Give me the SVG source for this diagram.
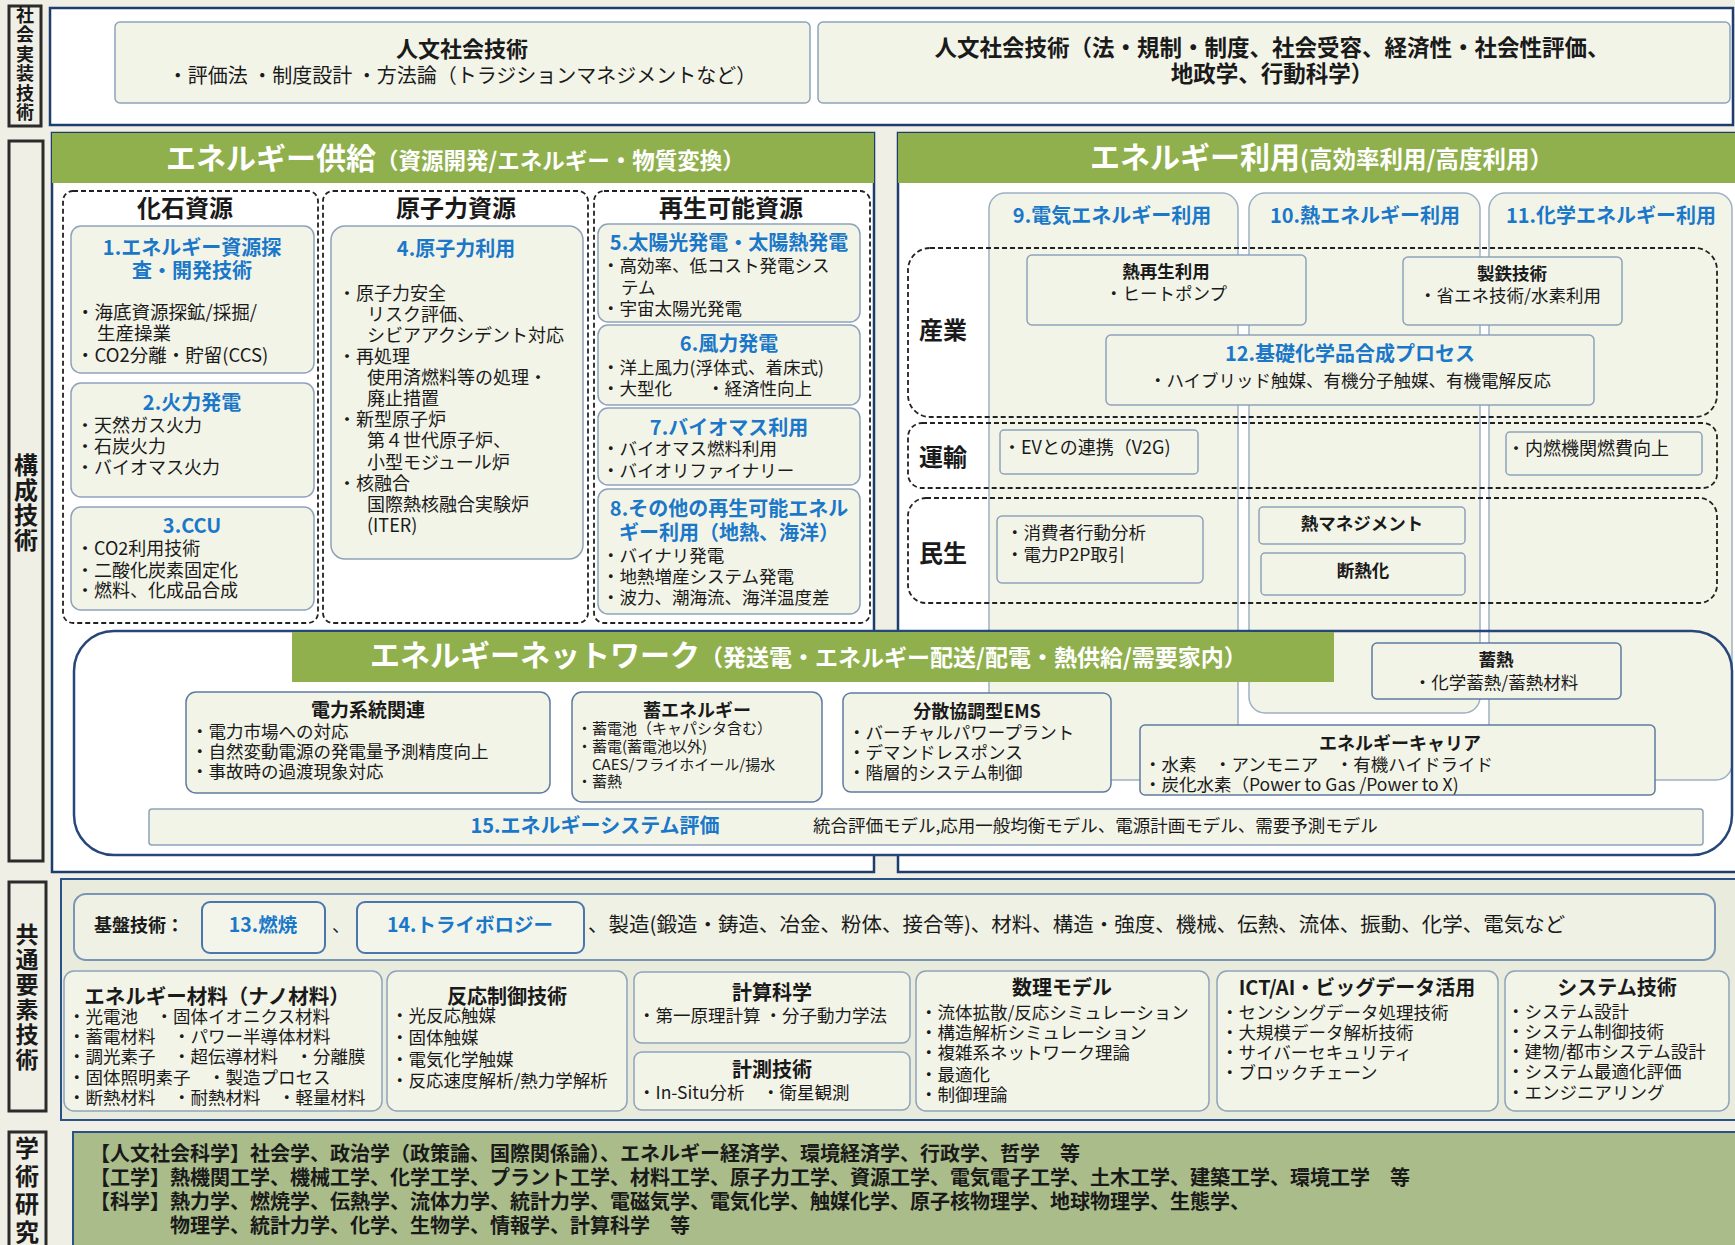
<svg xmlns="http://www.w3.org/2000/svg" width="1735" height="1245" viewBox="0 0 1735 1245" font-size="17.5">
<style>
.t{font-family:"Noto Sans CJK JP","Noto Sans",sans-serif;fill:#1a1a1a}
.b{font-weight:bold}
.c{text-anchor:middle}
.v{writing-mode:vertical-rl;font-family:"Noto Sans CJK JP","Noto Sans",sans-serif;fill:#1a1a1a;font-weight:bold}
.bl{fill:#1b78c9}
.w{fill:#ffffff}
.lab{fill:#efefe6;stroke:#2b2b2b;stroke-width:3}
.panel{fill:#ffffff;stroke:#1f3c6e;stroke-width:2.5}
.green{fill:#8fb04c}
.cb{fill:#f3f4e8;stroke:#8ea2ba;stroke-width:1.5}
.nb{fill:#f3f4e8;stroke:#5f7b9f;stroke-width:1.5}
.dash{fill:none;stroke:#222;stroke-width:1.8;stroke-dasharray:5 3}
.col{fill:#f3f4e8;stroke:#9db0c4;stroke-width:1.5}
</style>
<rect x="0" y="0" width="1735" height="1245" fill="#efefe6"/>

<!-- side labels -->
<g id="label-shakai">
<rect class="lab" x="9" y="6" width="32" height="120"/>
<text class="v" x="25" y="6" font-size="18" letter-spacing="1.5">社会実装技術</text>
</g>
<g id="label-kousei">
<rect class="lab" x="9" y="141" width="34" height="720"/>
<text class="v" x="26" y="453" font-size="24" letter-spacing="1">構成技術</text>
</g>
<g id="label-kyotsu">
<rect class="lab" x="9" y="882" width="37" height="229"/>
<text class="v" x="27" y="923" font-size="23" letter-spacing="2">共通要素技術</text>
</g>
<g id="label-gakujutsu">
<rect class="lab" x="9" y="1132" width="37" height="125"/>
<text class="v" x="27" y="1136" font-size="24" letter-spacing="4">学術研究</text>
</g>

<!-- top panel -->
<g id="top-panel">
<rect class="panel" x="50" y="8" width="1683" height="117"/>
</g>
<g id="jinbun-left">
<rect class="cb" x="115" y="22" width="695" height="81" rx="5"/>
<text class="t b c" x="462" y="57" font-size="22">人文社会技術</text>
<text class="t c" x="462" y="83" font-size="20">・評価法 ・制度設計 ・方法論（トラジションマネジメントなど）</text>
</g>
<g id="jinbun-right">
<rect class="cb" x="818" y="22" width="912" height="81" rx="5"/>
<text class="t b c" x="1272" y="56" font-size="22.5">人文社会技術（法・規制・制度、社会受容、経済性・社会性評価、</text>
<text class="t b c" x="1272" y="82" font-size="22.5">地政学、行動科学）</text>
</g>

<!-- supply panel -->
<g id="supply-panel">
<rect class="panel" x="52" y="133" width="822" height="739"/>
<rect class="green" x="52" y="133" width="822" height="50"/>
<text class="t b w" x="166" y="169" font-size="30">エネルギー供給<tspan font-size="22.5">（資源開発/エネルギー・物質変換）</tspan></text>
</g>
<!-- use panel -->
<g id="use-panel">
<rect class="panel" x="898" y="133" width="845" height="739"/>
<rect class="green" x="898" y="133" width="840" height="50"/>
<text class="t b w" x="1090" y="168" font-size="30">エネルギー利用<tspan font-size="23.5">(高効率利用/高度利用）</tspan></text>
</g>

<!-- resource groups -->
<g id="fossil">
<rect class="dash" x="63" y="191" width="255" height="432" rx="10"/>
<text class="t b c" x="185" y="217" font-size="24">化石資源</text>
</g>
<g id="nuclear">
<rect class="dash" x="323" y="191" width="265" height="432" rx="10"/>
<text class="t b c" x="456" y="217" font-size="24">原子力資源</text>
</g>
<g id="renewable">
<rect class="dash" x="594" y="191" width="276" height="432" rx="10"/>
<text class="t b c" x="731" y="217" font-size="24">再生可能資源</text>
</g>

<g id="n1" font-size="18.5">
<rect class="cb" x="71" y="226" width="243" height="147" rx="10"/>
<text class="t b c bl" x="192" y="255" font-size="20">1.エネルギー資源探</text>
<text class="t b c bl" x="192" y="278" font-size="20">査・開発技術</text>
<text class="t" x="76" y="319">・海底資源探鉱/採掘/</text>
<text class="t" x="97" y="340">生産操業</text>
<text class="t" x="76" y="362">・CO2分離・貯留(CCS)</text>
</g>
<g id="n2" font-size="18">
<rect class="cb" x="71" y="383" width="243" height="114" rx="10"/>
<text class="t b c bl" x="192" y="410" font-size="20">2.火力発電</text>
<text class="t" x="76" y="432">・天然ガス火力</text>
<text class="t" x="76" y="453">・石炭火力</text>
<text class="t" x="76" y="474">・バイオマス火力</text>
</g>
<g id="n3" font-size="18">
<rect class="cb" x="71" y="507" width="243" height="103" rx="10"/>
<text class="t b c bl" x="192" y="533" font-size="20">3.CCU</text>
<text class="t" x="76" y="555">・CO2利用技術</text>
<text class="t" x="76" y="577">・二酸化炭素固定化</text>
<text class="t" x="76" y="597">・燃料、化成品合成</text>
</g>
<g id="n4" font-size="18">
<rect class="cb" x="331" y="226" width="252" height="333" rx="14"/>
<text class="t b c bl" x="456" y="256" font-size="20">4.原子力利用</text>
<text class="t" x="338" y="300">・原子力安全</text>
<text class="t" x="367" y="321">リスク評価、</text>
<text class="t" x="367" y="342">シビアアクシデント対応</text>
<text class="t" x="338" y="363">・再処理</text>
<text class="t" x="367" y="384">使用済燃料等の処理・</text>
<text class="t" x="367" y="405">廃止措置</text>
<text class="t" x="338" y="426">・新型原子炉</text>
<text class="t" x="367" y="447">第４世代原子炉、</text>
<text class="t" x="367" y="469">小型モジュール炉</text>
<text class="t" x="338" y="490">・核融合</text>
<text class="t" x="367" y="511">国際熱核融合実験炉</text>
<text class="t" x="367" y="532">(ITER)</text>
</g>
<g id="n5">
<rect class="cb" x="598" y="224" width="262" height="98" rx="10"/>
<text class="t b c bl" x="729" y="250" font-size="20">5.太陽光発電・太陽熱発電</text>
<text class="t" x="602" y="272">・高効率、低コスト発電シス</text>
<text class="t" x="621" y="294">テム</text>
<text class="t" x="602" y="315">・宇宙太陽光発電</text>
</g>
<g id="n6">
<rect class="cb" x="598" y="325" width="262" height="80" rx="10"/>
<text class="t b c bl" x="729" y="351" font-size="20">6.風力発電</text>
<text class="t" x="602" y="374">・洋上風力(浮体式、着床式)</text>
<text class="t" x="602" y="395">・大型化　　・経済性向上</text>
</g>
<g id="n7">
<rect class="cb" x="598" y="408" width="262" height="77" rx="10"/>
<text class="t b c bl" x="729" y="435" font-size="20">7.バイオマス利用</text>
<text class="t" x="602" y="455">・バイオマス燃料利用</text>
<text class="t" x="602" y="477">・バイオリファイナリー</text>
</g>
<g id="n8">
<rect class="cb" x="598" y="489" width="262" height="125" rx="10"/>
<text class="t b c bl" x="729" y="516" font-size="20">8.その他の再生可能エネル</text>
<text class="t b c bl" x="729" y="540" font-size="20">ギー利用（地熱、海洋）</text>
<text class="t" x="602" y="562">・バイナリ発電</text>
<text class="t" x="602" y="583">・地熱増産システム発電</text>
<text class="t" x="602" y="604">・波力、潮海流、海洋温度差</text>
</g>

<!-- network background -->
<rect x="74" y="631" width="1658" height="224" rx="40" fill="#ffffff"/>

<!-- use columns -->
<g id="n9">
<rect class="col" x="989" y="193" width="249" height="587" rx="16"/>
<text class="t b c bl" x="1112" y="223" font-size="20">9.電気エネルギー利用</text>
</g>
<g id="n10">
<rect class="col" x="1249" y="193" width="231" height="520" rx="16"/>
<text class="t b c bl" x="1365" y="223" font-size="20">10.熱エネルギー利用</text>
</g>
<g id="n11">
<rect class="col" x="1489" y="193" width="243" height="587" rx="16"/>
<text class="t b c bl" x="1611" y="223" font-size="20">11.化学エネルギー利用</text>
</g>

<g id="sangyo">
<rect class="dash" x="908" y="248" width="809" height="169" rx="22"/>
<text class="t b c" x="943" y="339" font-size="24">産業</text>
</g>
<g id="unyu">
<rect class="dash" x="908" y="423" width="809" height="65" rx="14"/>
<text class="t b c" x="943" y="466" font-size="24">運輸</text>
</g>
<g id="minsei">
<rect class="dash" x="908" y="498" width="809" height="105" rx="18"/>
<text class="t b c" x="943" y="562" font-size="24">民生</text>
</g>

<g id="netsusaisei">
<rect class="cb" x="1027" y="255" width="279" height="70" rx="5"/>
<text class="t b c" x="1166" y="278">熱再生利用</text>
<text class="t c" x="1166" y="300">・ヒートポンプ</text>
</g>
<g id="seitetsu">
<rect class="cb" x="1403" y="257" width="219" height="68" rx="5"/>
<text class="t b c" x="1512" y="280">製鉄技術</text>
<text class="t c" x="1510" y="302">・省エネ技術/水素利用</text>
</g>
<g id="n12">
<rect class="cb" x="1106" y="335" width="488" height="70" rx="5"/>
<text class="t b c bl" x="1350" y="361" font-size="20">12.基礎化学品合成プロセス</text>
<text class="t c" x="1350" y="387">・ハイブリッド触媒、有機分子触媒、有機電解反応</text>
</g>
<g id="ev" font-size="18">
<rect class="cb" x="1000" y="430" width="198" height="44" rx="4"/>
<text class="t" x="1003" y="454">・EVとの連携（V2G)</text>
</g>
<g id="nainen" font-size="18">
<rect class="cb" x="1506" y="432" width="196" height="43" rx="4"/>
<text class="t" x="1507" y="455">・内燃機関燃費向上</text>
</g>
<g id="shohisha">
<rect class="cb" x="997" y="516" width="206" height="67" rx="5"/>
<text class="t" x="1006" y="539">・消費者行動分析</text>
<text class="t" x="1006" y="561">・電力P2P取引</text>
</g>
<g id="netsumane">
<rect class="cb" x="1259" y="507" width="206" height="37" rx="4"/>
<text class="t b c" x="1362" y="530">熱マネジメント</text>
</g>
<g id="dannetsu">
<rect class="cb" x="1261" y="553" width="204" height="42" rx="4"/>
<text class="t b c" x="1363" y="577">断熱化</text>
</g>

<!-- energy network -->
<g id="network">
<rect x="74" y="631" width="1658" height="224" rx="40" fill="none" stroke="#27467a" stroke-width="2.5"/>
<rect class="green" x="292" y="632" width="1042" height="50"/>
<text class="t b w" x="370" y="666" font-size="30">エネルギーネットワーク<tspan font-size="23">（発送電・エネルギー配送/配電・熱供給/需要家内）</tspan></text>
</g>
<g id="denryoku">
<rect class="nb" x="186" y="692" width="364" height="101" rx="10"/>
<text class="t b c" x="368" y="717" font-size="19">電力系統関連</text>
<text class="t" x="191" y="738">・電力市場への対応</text>
<text class="t" x="191" y="758">・自然変動電源の発電量予測精度向上</text>
<text class="t" x="191" y="778">・事故時の過渡現象対応</text>
</g>
<g id="chikuene" font-size="15">
<rect class="nb" x="572" y="692" width="250" height="110" rx="10"/>
<text class="t b c" x="697" y="717" font-size="18">蓄エネルギー</text>
<text class="t" x="577" y="734">・蓄電池（キャパシタ含む）</text>
<text class="t" x="577" y="752">・蓄電(蓄電池以外)</text>
<text class="t" x="592" y="770">CAES/フライホイール/揚水</text>
<text class="t" x="577" y="787">・蓄熱</text>
</g>
<g id="ems">
<rect class="nb" x="843" y="693" width="268" height="99" rx="8"/>
<text class="t b c" x="977" y="718" font-size="18">分散協調型EMS</text>
<text class="t" x="848" y="739">・バーチャルパワープラント</text>
<text class="t" x="848" y="759">・デマンドレスポンス</text>
<text class="t" x="848" y="779">・階層的システム制御</text>
</g>
<g id="chikunetsu">
<rect class="nb" x="1372" y="643" width="249" height="56" rx="5"/>
<text class="t b c" x="1496" y="666">蓄熱</text>
<text class="t c" x="1496" y="689">・化学蓄熱/蓄熱材料</text>
</g>
<g id="carrier">
<rect class="nb" x="1140" y="725" width="515" height="70" rx="5"/>
<text class="t b c" x="1400" y="750" font-size="18">エネルギーキャリア</text>
<text class="t" x="1144" y="771">・水素　・アンモニア　・有機ハイドライド</text>
<text class="t" x="1144" y="791">・炭化水素（Power to Gas /Power to X)</text>
</g>
<g id="n15">
<rect class="cb" x="149" y="809" width="1554" height="36" rx="3"/>
<text class="t b c bl" x="595" y="833" font-size="20">15.エネルギーシステム評価</text>
<text class="t" x="813" y="832">統合評価モデル,応用一般均衡モデル、電源計画モデル、需要予測モデル</text>
</g>

<!-- common element technologies -->
<g id="common-panel">
<rect x="61" y="879" width="1680" height="241" fill="#e9ecdc" stroke="#2b5287" stroke-width="2"/>
<rect x="74" y="894" width="1641" height="66" rx="12" fill="#eff1e4" stroke="#7b95b5" stroke-width="2"/>
<text class="t b" x="94" y="932" font-size="18">基盤技術：</text>
<text class="t" x="332" y="932" font-size="18">、</text>
<text class="t" x="588" y="932" font-size="20.5">、製造(鍛造・鋳造、冶金、粉体、接合等)、材料、構造・強度、機械、伝熱、流体、振動、化学、電気など</text>
</g>
<g id="n13">
<rect x="202" y="902" width="123" height="51" rx="8" fill="#f3f5ea" stroke="#4c75ad" stroke-width="2"/>
<text class="t b c bl" x="263" y="932" font-size="19.5">13.燃焼</text>
</g>
<g id="n14">
<rect x="357" y="902" width="227" height="51" rx="8" fill="#f3f5ea" stroke="#4c75ad" stroke-width="2"/>
<text class="t b c bl" x="470" y="932" font-size="19.5">14.トライボロジー</text>
</g>
<g id="zairyo">
<rect class="cb" x="64" y="971" width="318" height="140" rx="10"/>
<text class="t b c" x="217" y="1004" font-size="20.5">エネルギー材料（ナノ材料）</text>
<text class="t" x="68" y="1023">・光電池　・固体イオニクス材料</text>
<text class="t" x="68" y="1043">・蓄電材料　・パワー半導体材料</text>
<text class="t" x="68" y="1063">・調光素子　・超伝導材料　・分離膜</text>
<text class="t" x="68" y="1084">・固体照明素子　・製造プロセス</text>
<text class="t" x="68" y="1104">・断熱材料　・耐熱材料　・軽量材料</text>
</g>
<g id="hanno">
<rect class="cb" x="387" y="971" width="240" height="140" rx="10"/>
<text class="t b c" x="507" y="1004" font-size="20">反応制御技術</text>
<text class="t" x="391" y="1022">・光反応触媒</text>
<text class="t" x="391" y="1044">・固体触媒</text>
<text class="t" x="391" y="1066">・電気化学触媒</text>
<text class="t" x="391" y="1087">・反応速度解析/熱力学解析</text>
</g>
<g id="keisan">
<rect class="cb" x="634" y="972" width="276" height="71" rx="8"/>
<text class="t b c" x="772" y="1000" font-size="20">計算科学</text>
<text class="t" x="638" y="1022">・第一原理計算 ・分子動力学法</text>
</g>
<g id="keisoku">
<rect class="cb" x="634" y="1052" width="276" height="58" rx="8"/>
<text class="t b c" x="772" y="1077" font-size="20">計測技術</text>
<text class="t" x="638" y="1099">・In-Situ分析　・衛星観測</text>
</g>
<g id="suri">
<rect class="cb" x="916" y="971" width="293" height="140" rx="10"/>
<text class="t b c" x="1062" y="995" font-size="20">数理モデル</text>
<text class="t" x="920" y="1019">・流体拡散/反応シミュレーション</text>
<text class="t" x="920" y="1039">・構造解析シミュレーション</text>
<text class="t" x="920" y="1059">・複雑系ネットワーク理論</text>
<text class="t" x="920" y="1081">・最適化</text>
<text class="t" x="920" y="1101">・制御理論</text>
</g>
<g id="ict">
<rect class="cb" x="1217" y="971" width="281" height="140" rx="10"/>
<text class="t b c" x="1357" y="995" font-size="20">ICT/AI・ビッグデータ活用</text>
<text class="t" x="1221" y="1019">・センシングデータ処理技術</text>
<text class="t" x="1221" y="1039">・大規模データ解析技術</text>
<text class="t" x="1221" y="1059">・サイバーセキュリティ</text>
<text class="t" x="1221" y="1079">・ブロックチェーン</text>
</g>
<g id="system">
<rect class="cb" x="1505" y="971" width="224" height="140" rx="10"/>
<text class="t b c" x="1617" y="995" font-size="20">システム技術</text>
<text class="t" x="1507" y="1018">・システム設計</text>
<text class="t" x="1507" y="1038">・システム制御技術</text>
<text class="t" x="1507" y="1058">・建物/都市システム設計</text>
<text class="t" x="1507" y="1078">・システム最適化評価</text>
<text class="t" x="1507" y="1099">・エンジニアリング</text>
</g>

<!-- academic research -->
<g id="academic" font-size="20">
<rect x="73" y="1132" width="1670" height="125" fill="#a9bc89" stroke="#2b5287" stroke-width="2"/>
<text class="t b" x="90" y="1161">【人文社会科学】社会学、政治学（政策論、国際関係論）、エネルギー経済学、環境経済学、行政学、哲学　等</text>
<text class="t b" x="90" y="1185">【工学】熱機関工学、機械工学、化学工学、プラント工学、材料工学、原子力工学、資源工学、電気電子工学、土木工学、建築工学、環境工学　等</text>
<text class="t b" x="90" y="1209">【科学】熱力学、燃焼学、伝熱学、流体力学、統計力学、電磁気学、電気化学、触媒化学、原子核物理学、地球物理学、生態学、</text>
<text class="t b" x="170" y="1233">物理学、統計力学、化学、生物学、情報学、計算科学　等</text>
</g>
</svg>
